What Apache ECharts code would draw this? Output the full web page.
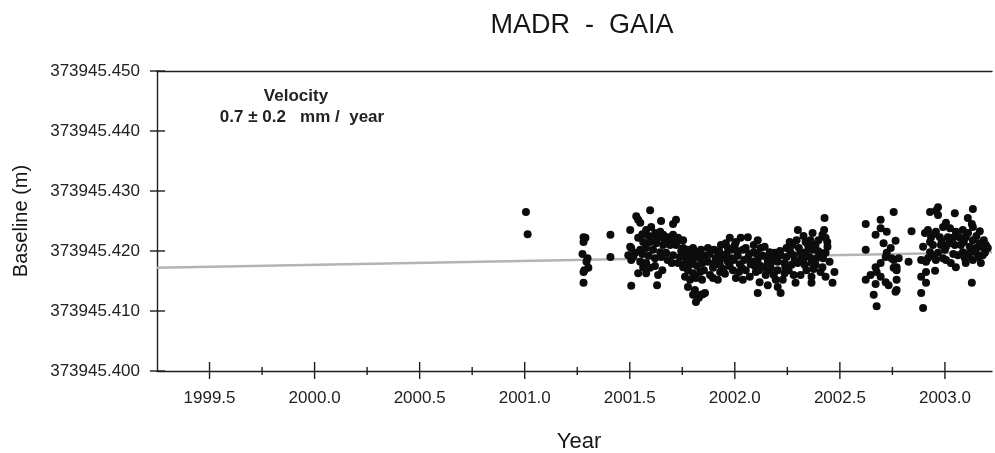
<!DOCTYPE html>
<html>
<head>
<meta charset="utf-8">
<script src="https://cdn.jsdelivr.net/npm/echarts@6/dist/echarts.min.js"></script>
<style>
  html, body { margin: 0; padding: 0; background: #fff; }
  #chart { width: 995px; height: 453px; }
</style>
</head>
<body>
<div id="chart"></div>
<script>
// Axis ranges
const X_MIN = 1999.25;
const X_MAX = 2003.224;
const Y_MIN = 373945.400;
const Y_MAX = 373945.450;

// Tick positions and labels
const xTickLabels = ['1999.5', '2000.0', '2000.5', '2001.0', '2001.5', '2002.0', '2002.5', '2003.0'];
const xMajorTicks = [1999.5, 2000.0, 2000.5, 2001.0, 2001.5, 2002.0, 2002.5, 2003.0];
const xMinorTicks = [1999.75, 2000.25, 2000.75, 2001.25, 2001.75, 2002.25, 2002.75];
const yTicks = [373945.400, 373945.410, 373945.420, 373945.430, 373945.440, 373945.450];

// Fitted linear trend (0.7 mm/year)
const trendYears = [1999.25, 2003.224];
const trendBaseline = [373945.4172, 373945.4198];

// Daily baseline solutions: [year, baseline length in metres]
const observations = [
  [2001.006, 373945.4265], [2001.014, 373945.4228],
  [2001.280, 373945.4223], [2001.289, 373945.4222], [2001.280, 373945.4215], [2001.275, 373945.4195],
  [2001.299, 373945.4188], [2001.294, 373945.4182], [2001.303, 373945.4172], [2001.284, 373945.4168],
  [2001.280, 373945.4165], [2001.280, 373945.4147],
  [2001.408, 373945.4227], [2001.408, 373945.4190],
  [2001.502, 373945.4235], [2001.502, 373945.4207], [2001.493, 373945.4193], [2001.507, 373945.4185],
  [2001.507, 373945.4142],
  [2001.597, 373945.4268], [2001.531, 373945.4258], [2001.540, 373945.4252], [2001.550, 373945.4247],
  [2001.649, 373945.4250], [2001.720, 373945.4252], [2001.706, 373945.4245], [2001.602, 373945.4240],
  [2001.578, 373945.4235], [2001.621, 373945.4230], [2001.645, 373945.4232], [2001.659, 373945.4227],
  [2001.682, 373945.4223], [2001.706, 373945.4227], [2001.730, 373945.4222], [2001.754, 373945.4218],
  [2001.540, 373945.4222], [2001.564, 373945.4215], [2001.597, 373945.4215], [2001.626, 373945.4213],
  [2001.659, 373945.4210], [2001.692, 373945.4210], [2001.720, 373945.4210], [2001.754, 373945.4205],
  [2001.777, 373945.4202], [2001.801, 373945.4205], [2001.825, 373945.4198],
  [2001.507, 373945.4205], [2001.526, 373945.4197], [2001.550, 373945.4202], [2001.578, 373945.4205],
  [2001.611, 373945.4202], [2001.645, 373945.4198], [2001.673, 373945.4197], [2001.706, 373945.4193],
  [2001.739, 373945.4190], [2001.768, 373945.4188], [2001.801, 373945.4185], [2001.834, 373945.4188],
  [2001.517, 373945.4190], [2001.550, 373945.4182], [2001.578, 373945.4180], [2001.564, 373945.4173],
  [2001.597, 373945.4172], [2001.540, 373945.4163], [2001.578, 373945.4163], [2001.635, 373945.4160],
  [2001.754, 373945.4173], [2001.777, 373945.4168], [2001.801, 373945.4163], [2001.763, 373945.4157],
  [2001.787, 373945.4152], [2001.815, 373945.4155], [2001.777, 373945.4140], [2001.810, 373945.4135],
  [2001.801, 373945.4127], [2001.815, 373945.4115], [2001.839, 373945.4127], [2001.630, 373945.4143],
  [2001.848, 373945.4128],
  [2001.560, 373945.4228], [2001.590, 373945.4225], [2001.615, 373945.4220], [2001.640, 373945.4222],
  [2001.668, 373945.4218], [2001.695, 373945.4220], [2001.725, 373945.4215], [2001.745, 373945.4200],
  [2001.760, 373945.4198], [2001.785, 373945.4195], [2001.810, 373945.4195], [2001.560, 373945.4195],
  [2001.590, 373945.4192], [2001.620, 373945.4188], [2001.650, 373945.4190], [2001.680, 373945.4185],
  [2001.700, 373945.4180], [2001.730, 373945.4180], [2001.760, 373945.4178], [2001.790, 373945.4178],
  [2001.820, 373945.4175], [2001.620, 373945.4175], [2001.655, 373945.4168], [2001.835, 373945.4165],
  [2001.845, 373945.4180],
  [2001.976, 373945.4222], [2002.028, 373945.4222], [2002.062, 373945.4223], [2002.142, 373945.4207],
  [2001.934, 373945.4210], [2001.957, 373945.4213], [2002.000, 373945.4210], [2001.919, 373945.4198],
  [2001.872, 373945.4205], [2001.839, 373945.4202], [2001.858, 373945.4192], [2001.858, 373945.4130],
  [2001.896, 373945.4155], [2002.109, 373945.4130], [2002.204, 373945.4140], [2001.829, 373945.4122],
  [2001.872, 373945.4182], [2001.896, 373945.4172], [2001.910, 373945.4188], [2001.929, 373945.4177],
  [2001.948, 373945.4193], [2001.967, 373945.4182], [2001.981, 373945.4202], [2001.991, 373945.4168],
  [2002.014, 373945.4192], [2002.024, 373945.4178], [2002.038, 373945.4202], [2002.052, 373945.4168],
  [2002.062, 373945.4188], [2002.076, 373945.4178], [2002.090, 373945.4198], [2002.100, 373945.4165],
  [2002.109, 373945.4185], [2002.123, 373945.4175], [2002.133, 373945.4192], [2002.147, 373945.4160],
  [2002.157, 373945.4182], [2002.171, 373945.4172], [2002.185, 373945.4188], [2002.195, 373945.4152],
  [2001.882, 373945.4160], [2001.919, 373945.4152], [2001.953, 373945.4162], [2002.005, 373945.4155],
  [2002.038, 373945.4152], [2002.071, 373945.4157], [2002.118, 373945.4148], [2002.157, 373945.4143],
  [2001.853, 373945.4168], [2001.844, 373945.4152], [2001.901, 373945.4202], [2001.967, 373945.4205],
  [2002.005, 373945.4215], [2002.090, 373945.4210], [2002.123, 373945.4205], [2002.166, 373945.4198],
  [2002.109, 373945.4218], [2002.052, 373945.4205], [2001.938, 373945.4188], [2001.986, 373945.4188],
  [2002.033, 373945.4172], [2002.137, 373945.4172], [2002.095, 373945.4175], [2002.185, 373945.4160],
  [2001.880, 373945.4195], [2001.905, 373945.4180], [2001.925, 373945.4200], [2001.945, 373945.4170],
  [2001.960, 373945.4195], [2001.995, 373945.4185], [2002.010, 373945.4200], [2002.045, 373945.4185],
  [2002.068, 373945.4195], [2002.085, 373945.4182], [2002.105, 373945.4195], [2002.115, 373945.4168],
  [2002.150, 373945.4190], [2002.175, 373945.4182], [2002.160, 373945.4168], [2002.020, 373945.4165],
  [2001.975, 373945.4175], [2001.930, 373945.4165],
  [2002.427, 373945.4255], [2002.300, 373945.4235], [2002.370, 373945.4230], [2002.417, 373945.4227],
  [2002.432, 373945.4222], [2002.261, 373945.4215], [2002.275, 373945.4210], [2002.251, 373945.4205],
  [2002.337, 373945.4215], [2002.384, 373945.4210], [2002.441, 373945.4207], [2002.190, 373945.4197],
  [2002.218, 373945.4193], [2002.246, 373945.4190], [2002.280, 373945.4193], [2002.313, 373945.4197],
  [2002.337, 373945.4198], [2002.370, 373945.4202], [2002.403, 373945.4198], [2002.432, 373945.4197],
  [2002.451, 373945.4182], [2002.474, 373945.4165], [2002.432, 373945.4157], [2002.465, 373945.4147],
  [2002.204, 373945.4182], [2002.237, 373945.4180], [2002.270, 373945.4177], [2002.299, 373945.4180],
  [2002.332, 373945.4177], [2002.365, 373945.4180], [2002.384, 373945.4177], [2002.417, 373945.4173],
  [2002.204, 373945.4168], [2002.237, 373945.4163], [2002.280, 373945.4160], [2002.313, 373945.4160],
  [2002.365, 373945.4157], [2002.365, 373945.4147], [2002.218, 373945.4130],
  [2002.246, 373945.4205], [2002.294, 373945.4218], [2002.327, 373945.4225], [2002.360, 373945.4218],
  [2002.398, 373945.4218], [2002.318, 373945.4188], [2002.389, 373945.4188], [2002.256, 373945.4168],
  [2002.341, 373945.4168], [2002.408, 373945.4165], [2002.228, 373945.4152], [2002.289, 373945.4147],
  [2002.215, 373945.4200], [2002.240, 373945.4173], [2002.265, 373945.4198], [2002.285, 373945.4185],
  [2002.305, 373945.4205], [2002.325, 373945.4185], [2002.350, 373945.4208], [2002.355, 373945.4190],
  [2002.375, 373945.4170], [2002.395, 373945.4200], [2002.420, 373945.4188], [2002.440, 373945.4215],
  [2002.425, 373945.4235],
  [2002.623, 373945.4245], [2002.694, 373945.4252], [2002.756, 373945.4265], [2002.694, 373945.4238],
  [2002.670, 373945.4227], [2002.723, 373945.4232], [2002.765, 373945.4217], [2002.708, 373945.4213],
  [2002.742, 373945.4205], [2002.723, 373945.4197], [2002.718, 373945.4190], [2002.746, 373945.4188],
  [2002.623, 373945.4202], [2002.841, 373945.4233], [2002.827, 373945.4182], [2002.694, 373945.4180],
  [2002.670, 373945.4173], [2002.675, 373945.4165], [2002.756, 373945.4172], [2002.770, 373945.4173],
  [2002.646, 373945.4160], [2002.623, 373945.4152], [2002.694, 373945.4157], [2002.718, 373945.4148],
  [2002.732, 373945.4143], [2002.770, 373945.4152], [2002.670, 373945.4145], [2002.765, 373945.4132],
  [2002.661, 373945.4127], [2002.675, 373945.4108], [2002.780, 373945.4188], [2002.756, 373945.4185],
  [2002.770, 373945.4168], [2002.770, 373945.4135],
  [2002.905, 373945.4230], [2002.929, 373945.4215], [2002.896, 373945.4207], [2002.887, 373945.4185],
  [2002.910, 373945.4182], [2002.910, 373945.4165], [2002.887, 373945.4157], [2002.910, 373945.4147],
  [2002.887, 373945.4130], [2002.896, 373945.4105],
  [2002.967, 373945.4273], [2002.957, 373945.4267], [2002.929, 373945.4265], [2003.047, 373945.4263],
  [2003.133, 373945.4270], [2003.109, 373945.4255], [2003.133, 373945.4240], [2003.166, 373945.4233],
  [2003.005, 373945.4247], [2002.991, 373945.4240], [2003.024, 373945.4238], [2002.957, 373945.4232],
  [2002.919, 373945.4235], [2003.052, 373945.4232], [2003.085, 373945.4235], [2002.934, 373945.4223],
  [2002.976, 373945.4223], [2003.014, 373945.4223], [2003.071, 373945.4222], [2003.099, 373945.4223],
  [2003.133, 373945.4218], [2003.166, 373945.4213], [2002.943, 373945.4210], [2002.981, 373945.4210],
  [2003.005, 373945.4207], [2003.047, 373945.4210], [2003.076, 373945.4210], [2003.118, 373945.4207],
  [2003.147, 373945.4205], [2003.171, 373945.4207], [2002.929, 373945.4198], [2002.967, 373945.4197],
  [2003.000, 373945.4202], [2003.085, 373945.4198], [2003.118, 373945.4197], [2003.147, 373945.4198],
  [2003.180, 373945.4193], [2002.919, 373945.4188], [2002.957, 373945.4185], [2003.005, 373945.4185],
  [2003.028, 373945.4180], [2003.052, 373945.4173], [2003.095, 373945.4188], [2003.133, 373945.4185],
  [2003.171, 373945.4180], [2003.099, 373945.4180], [2002.953, 373945.4167], [2003.128, 373945.4147],
  [2003.190, 373945.4197], [2003.185, 373945.4218], [2002.967, 373945.4260], [2003.128, 373945.4245],
  [2003.062, 373945.4193], [2003.038, 373945.4222], [2002.991, 373945.4188], [2003.204, 373945.4205],
  [2002.945, 373945.4228], [2002.985, 373945.4215], [2003.020, 373945.4213], [2003.060, 373945.4225],
  [2003.090, 373945.4215], [2003.110, 373945.4230], [2003.150, 373945.4225], [2003.160, 373945.4190],
  [2003.195, 373945.4210], [2002.940, 373945.4192], [2003.040, 373945.4195], [2003.110, 373945.4192]
];

const AXIS_COLOR = '#1e1e1e';
const FONT = '"Liberation Sans", Arial, sans-serif';

// Tick marks that straddle the axis line, drawn in data coordinates
function tickSeries(points, horizontal, before, after) {
  return {
    type: 'custom',
    coordinateSystem: 'cartesian2d',
    silent: true,
    clip: false,
    z: 6,
    data: points,
    renderItem: function (params, api) {
      const p = api.coord([api.value(0), api.value(1)]);
      const shape = horizontal
        ? { x1: p[0] - before, y1: p[1], x2: p[0] + after, y2: p[1] }
        : { x1: p[0], y1: p[1] - before, x2: p[0], y2: p[1] + after };
      return { type: 'line', shape: shape, style: { stroke: AXIS_COLOR, lineWidth: 1.4 } };
    }
  };
}

const chart = echarts.init(document.getElementById('chart'), null, { renderer: 'canvas' });

chart.setOption({
  animation: false,
  backgroundColor: '#ffffff',
  grid: { left: 157, right: 0, top: 71, bottom: 82, containLabel: false },
  xAxis: [
    {
      type: 'value',
      min: X_MIN,
      max: X_MAX,
      interval: 0.25,
      position: 'bottom',
      axisLine: { show: true, lineStyle: { color: AXIS_COLOR, width: 1.4 } },
      axisTick: { show: false },
      splitLine: { show: false },
      axisLabel: {
        margin: 19,
        color: '#222',
        fontFamily: FONT,
        fontSize: 17,
        formatter: function (v) {
          const s = v.toFixed(1);
          return (Math.abs(v * 2 - Math.round(v * 2)) < 1e-6 && xTickLabels.indexOf(s) >= 0) ? s : '';
        }
      }
    },
    {
      type: 'value',
      min: X_MIN,
      max: X_MAX,
      position: 'top',
      axisLine: { show: true, onZero: false, lineStyle: { color: AXIS_COLOR, width: 1.4 } },
      axisTick: { show: false },
      axisLabel: { show: false },
      splitLine: { show: false }
    }
  ],
  yAxis: {
    type: 'value',
    min: Y_MIN,
    max: Y_MAX,
    interval: 0.01,
    axisLine: { show: true, onZero: false, lineStyle: { color: AXIS_COLOR, width: 1.4 } },
    axisTick: { show: false },
    splitLine: { show: false },
    axisLabel: {
      margin: 17,
      color: '#222',
      fontFamily: FONT,
      fontSize: 17,
      formatter: function (v) { return v.toFixed(3); }
    }
  },
  series: [
    {
      name: 'Trend',
      type: 'line',
      data: trendYears.map(function (t, i) { return [t, trendBaseline[i]]; }),
      symbol: 'none',
      lineStyle: { color: '#b4b4b4', width: 2.6 },
      z: 2,
      silent: true
    },
    {
      name: 'Baseline',
      type: 'scatter',
      data: observations,
      symbol: 'circle',
      symbolSize: 8,
      itemStyle: { color: '#0c0c0c', opacity: 1 },
      z: 3,
      silent: true
    },
    tickSeries(xMajorTicks.map(function (v) { return [v, Y_MIN]; }), false, 9, 8),
    tickSeries(xMinorTicks.map(function (v) { return [v, Y_MIN]; }), false, 4, 4),
    tickSeries(yTicks.map(function (v) { return [X_MIN, v]; }), true, 7, 8)
  ],
  graphic: [
    {
      type: 'text', x: 582, y: 26,
      style: { text: 'MADR  -  GAIA', font: 'normal 27px ' + FONT, fill: '#161616', align: 'center', verticalAlign: 'middle' }
    },
    {
      type: 'text', x: 579, y: 442,
      style: { text: 'Year', font: 'normal 22px ' + FONT, fill: '#161616', align: 'center', verticalAlign: 'middle' }
    },
    {
      type: 'text', x: 21, y: 221, rotation: Math.PI / 2,
      style: { text: 'Baseline (m)', font: 'normal 20px ' + FONT, fill: '#161616', align: 'center', verticalAlign: 'middle' }
    },
    {
      type: 'text', x: 296, y: 96,
      style: { text: 'Velocity', font: 'bold 17px ' + FONT, fill: '#222', align: 'center', verticalAlign: 'middle' }
    },
    {
      type: 'text', x: 302, y: 117,
      style: { text: '0.7 \u00b1 0.2   mm /  year', font: 'bold 17px ' + FONT, fill: '#222', align: 'center', verticalAlign: 'middle' }
    }
  ]
});
</script>
</body>
</html>
